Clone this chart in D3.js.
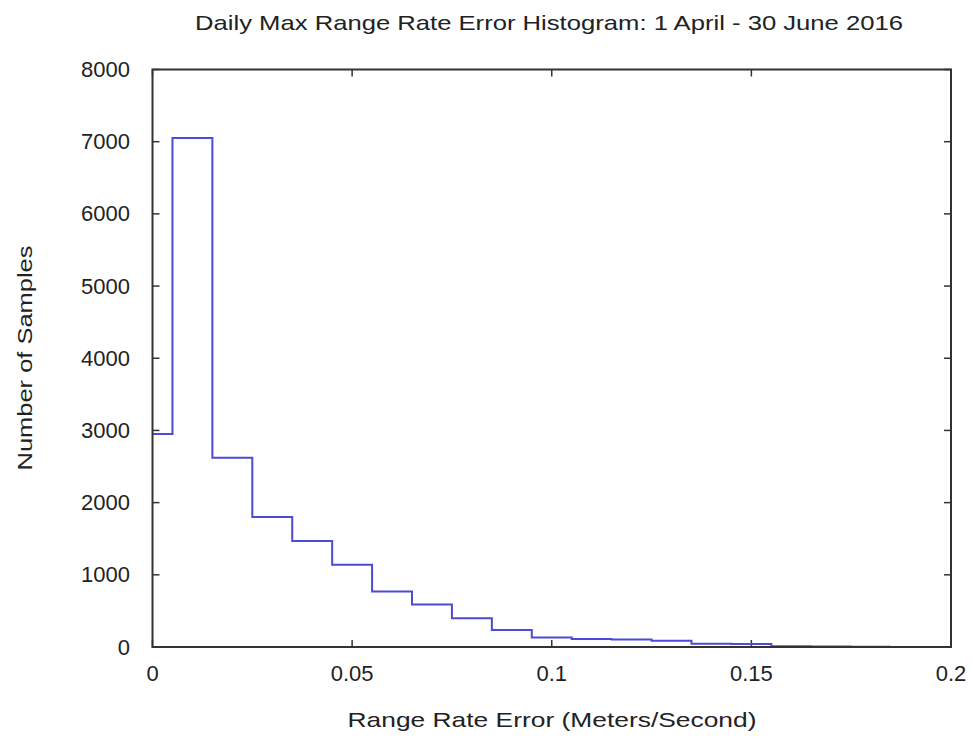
<html>
<script src="https://d3js.org/d3.v7.min.js"></script>
<style>
  body { margin: 0; background: #fff; }
  text { font-family: "Liberation Sans", Arial, sans-serif; fill: #222; }
</style>
<body>
<svg width="972" height="738"></svg>
<script>
// bin edges (m/s) and counts
const binStart = [0, 0.005, 0.015, 0.025, 0.035, 0.045, 0.055, 0.065, 0.075, 0.085, 0.095, 0.105, 0.115, 0.125, 0.135, 0.145, 0.155, 0.165, 0.175];
const binEnd   = [0.005, 0.015, 0.025, 0.035, 0.045, 0.055, 0.065, 0.075, 0.085, 0.095, 0.105, 0.115, 0.125, 0.135, 0.145, 0.155, 0.165, 0.175, 0.185];
const counts   = [2950, 7050, 2620, 1800, 1470, 1140, 770, 590, 400, 235, 130, 110, 105, 85, 45, 40, 12, 8, 5];
const xTicks = [0, 0.05, 0.1, 0.15, 0.2];
const yTicks = [0, 1000, 2000, 3000, 4000, 5000, 6000, 7000, 8000];

const pLeft = 152.5, pRight = 951, pTop = 69.5, pBottom = 647;
const svg = d3.select('svg');
const x = d3.scaleLinear().domain([0, 0.2]).range([pLeft, pRight]);
const y = d3.scaleLinear().domain([0, 8000]).range([pBottom, pTop]);
const fs = "21px";

// ticks, inward and mirrored like gnuplot
const tl = 7;
const axisCol = "#333";
yTicks.forEach(v => {
  svg.append("line").attr("x1", pLeft).attr("x2", pLeft + tl).attr("y1", y(v)).attr("y2", y(v)).attr("stroke", axisCol).attr("stroke-width", 1.5);
  svg.append("line").attr("x1", pRight).attr("x2", pRight - tl).attr("y1", y(v)).attr("y2", y(v)).attr("stroke", axisCol).attr("stroke-width", 1.5);
  svg.append("text").attr("x", 130).attr("y", y(v)).attr("text-anchor", "end").attr("dominant-baseline", "central").style("font-size", "22px").text(v);
});
xTicks.forEach(v => {
  svg.append("line").attr("x1", x(v)).attr("x2", x(v)).attr("y1", pBottom).attr("y2", pBottom - tl).attr("stroke", axisCol).attr("stroke-width", 1.5);
  svg.append("line").attr("x1", x(v)).attr("x2", x(v)).attr("y1", pTop).attr("y2", pTop + tl).attr("stroke", axisCol).attr("stroke-width", 1.5);
  svg.append("text").attr("x", x(v)).attr("y", 681).attr("text-anchor", "middle").style("font-size", "22px").text(v);
});

// histogram as steps
const pts = [];
counts.forEach((c, i) => { pts.push([x(binStart[i]), y(c)]); pts.push([x(binEnd[i]), y(c)]); });
svg.append("path").attr("d", d3.line()(pts)).attr("fill", "none").attr("stroke", "#4b4bd6").attr("stroke-width", 2);

// frame
svg.append("rect").attr("x", pLeft).attr("y", pTop).attr("width", pRight - pLeft).attr("height", pBottom - pTop)
  .attr("fill", "none").attr("stroke", axisCol).attr("stroke-width", 2);

svg.append("text").attr("x", 549).attr("y", 30).attr("text-anchor", "middle").style("font-size", fs)
  .attr("textLength", 708).attr("lengthAdjust", "spacingAndGlyphs")
  .text("Daily Max Range Rate Error Histogram: 1 April - 30 June 2016");
svg.append("text").attr("x", 552).attr("y", 727).attr("text-anchor", "middle").style("font-size", fs)
  .attr("textLength", 409).attr("lengthAdjust", "spacingAndGlyphs")
  .text("Range Rate Error (Meters/Second)");
svg.append("text").attr("transform", "translate(32,358) rotate(-90)").attr("text-anchor", "middle").style("font-size", fs)
  .attr("textLength", 225).attr("lengthAdjust", "spacingAndGlyphs")
  .text("Number of Samples");
</script>
</body>
</html>
